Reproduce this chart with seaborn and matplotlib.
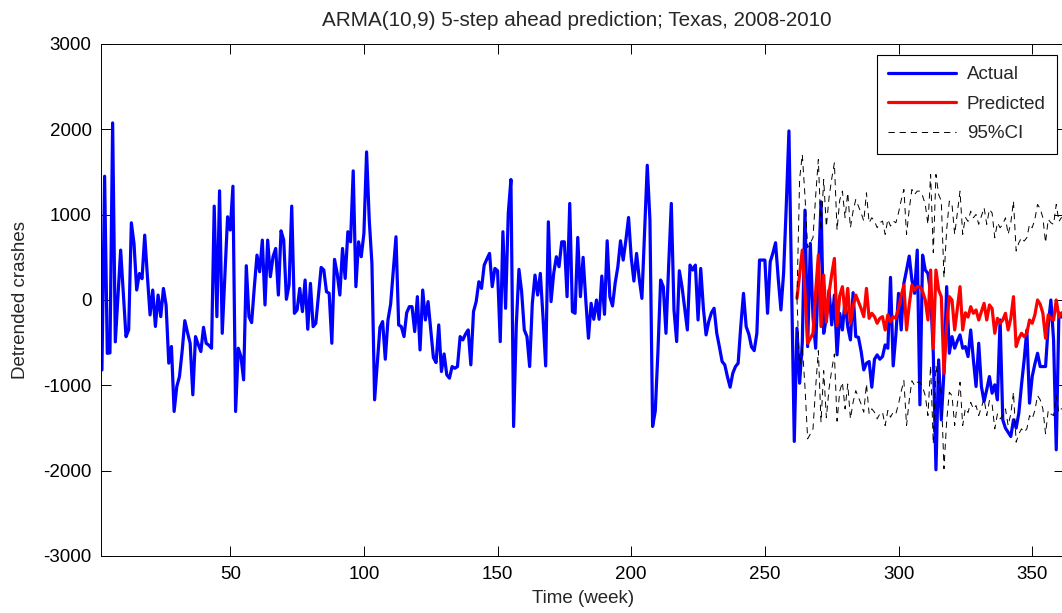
import numpy as np
import matplotlib
matplotlib.use("Agg")
import matplotlib.pyplot as plt
import seaborn as sns

# weekly detrended crash counts (weeks 2..361)
actual = [
    -820, 1450, -625, -620, 2075, -490, 50, 585, 80, -430,            # 2-11
    -350, 905, 660, 117, 310, 250, 760, 280, -175, 117,               # 12-21
    -310, 58, -195, 135, -60, -740, -545, -1306, -1014, -897,         # 22-31
    -600, -242, -380, -507, -1111, -429, -520, -604, -320, -507,      # 32-41
    -530, -565, 1100, -195, 1279, -390, 300, 975, 820, 1333,          # 42-51
    -1306, -565, -663, -936, 402, -195, -265, 150, 526, 331,          # 52-61
    702, -58, 702, 273, 507, 604, 58, 811, 702, 8,                    # 62-71
    175, 1100, -156, -117, 136, -136, 234, -343, 195, -312,           # 72-81
    -273, 50, 382, 351, 97, 78, -507, 476, 312, 58,                   # 82-91
    604, 253, 800, 682, 1513, 156, 682, 507, 780, 1735,               # 92-101
    936, 429, -1170, -741, -320, -253, -694, -234, -47, 350,          # 102-111
    741, -292, -312, -429, -150, -78, -78, -370, 39, -585,            # 112-121
    117, -234, -19, -351, -675, -733, -292, -838, -632, -877,         # 122-131
    -916, -780, -800, -780, -429, -468, -400, -351, -760, -136,       # 132-141
    -19, 214, 136, 409, 480, 546, 156, 370, 343, -487,                # 142-151
    800, -97, 1014, 1412, -1482, -300, 359, 97, -351, -429,           # 152-161
    -780, -39, 292, 58, 312, -200, -772, 916, -19, 312,               # 162-171
    507, 390, 682, 682, 39, 1131, -136, -156, 733, 39,                # 172-181
    500, 0, -448, -39, -226, 0, -226, 281, -168, 694,                 # 182-191
    39, -70, 200, 390, 694, 468, 700, 967, 500, 222,                  # 192-201
    546, 250, 19, 800, 1579, 936, -1482, -1300, -600, 234,            # 202-211
    156, -390, 400, 1131, -117, -487, 343, 156, -100, -351,           # 212-221
    409, 351, 409, -234, 370, -100, -409, -253, -150, -97,            # 222-231
    -390, -550, -721, -760, -900, -1022, -858, -780, -741, -300,      # 232-241
    78, -312, -400, -550, -593, -390, 468, 468, 468, -156,            # 242-251
    448, 550, 671, 250, -117, 312, 1100, 1981, 150, -1657,            # 252-261
    -331, -975, -500, 1053, -546, 663, -200, -565, 300, 1150,         # 262-271
    -390, -214, 117, -292, 58, -643, -156, -351, 0, -312,             # 272-281
    -468, 86, -429, -437, -600, -819, -741, -721, -1022, -694,        # 282-291
    -643, -694, -663, -526, -565, 265, -772, -409, 78, -351,          # 292-301
    195, 350, 515, 234, 78, 585, -1228, 526, 351, 312,                # 302-311
    78, -624, -1989, -702, -1404, -838, 156, -624, -429, -565,        # 312-321
    -480, -409, -565, -546, -663, -351, -700, -1014, -507, -1014,     # 322-331
    -1189, -1050, -897, -1092, -994, -1170, -234, -1404, -1501, -1550,  # 332-341
    -1599, -1404, -1501, -1326, -994, -700, -351, -1209, -897, -750,  # 342-351
    -624, -780, -780, -780, -300, 0, -468, -1755, -150, -200,         # 352-361
]

# ARMA(10,9) 5-step ahead prediction, weeks 262..361
predicted = [
    20, 300, 585, 100, -507, -450, -390, 100, 526, -312,
    292, -260, 80, 300, 487, -300, 50, 156, -156, 136,
    -273, -78, 58, -20, -100, -195, 136, -215, -156, -195,
    -273, -215, -195, -351, -175, -253, -195, -215, -97, 50,
    175, -351, -58, 175, 117, 156, 156, 100, 0, -234,
    351, -565, 351, 117, 39, -858, -300, 39, 0, -351,
    -100, 156, -351, -150, -200, -78, -156, -117, -234, -136,
    -39, -234, -58, -100, -390, -215, -273, -234, -156, -351,
    -215, 39, -546, -450, -390, -429, -390, -234, -273, -175,
    0, -50, -156, -448, -175, -215, -234, 0, -200, -150,
]

ci_upper = [
    20, 1420, 1705, 1220, 613, 670, 730, 1220, 1646, 808,
    1412, 860, 1200, 1420, 1607, 820, 1170, 1276, 964, 1256,
    847, 1042, 1178, 1100, 1020, 925, 1256, 905, 964, 925,
    847, 905, 925, 769, 945, 867, 925, 905, 1023, 1170,
    1295, 769, 1062, 1295, 1237, 1276, 1276, 1220, 1120, 886,
    1471, 555, 1471, 1237, 1159, 262, 820, 1159, 1120, 769,
    1020, 1276, 769, 970, 920, 1042, 964, 1003, 886, 984,
    1081, 886, 1062, 1020, 730, 905, 847, 886, 964, 769,
    905, 1159, 574, 670, 730, 691, 730, 886, 847, 945,
    1120, 1070, 964, 672, 945, 905, 886, 1120, 920, 970,
]

ci_lower = [
    20, -820, -535, -1020, -1627, -1570, -1510, -1020, -594, -1432,
    -828, -1380, -1040, -820, -633, -1420, -1070, -964, -1276, -984,
    -1393, -1198, -1062, -1140, -1220, -1315, -984, -1335, -1276, -1315,
    -1393, -1335, -1315, -1471, -1295, -1373, -1315, -1335, -1217, -1070,
    -945, -1471, -1178, -945, -1003, -964, -964, -1020, -1120, -1354,
    -769, -1685, -769, -1003, -1081, -1978, -1420, -1081, -1120, -1471,
    -1220, -964, -1471, -1270, -1320, -1198, -1276, -1237, -1354, -1256,
    -1159, -1354, -1178, -1220, -1510, -1335, -1393, -1354, -1276, -1471,
    -1335, -1081, -1666, -1570, -1510, -1549, -1510, -1354, -1393, -1295,
    -1120, -1170, -1276, -1568, -1295, -1335, -1354, -1120, -1320, -1270,
]

first_week = 2
forecast_start = 262
weeks = np.arange(first_week, first_week + len(actual))
fc_weeks = np.arange(forecast_start, forecast_start + len(predicted))

sns.set_theme(style="white")
plt.rcParams["font.family"] = ["Liberation Sans", "DejaVu Sans"]
plt.rcParams["axes.unicode_minus"] = False
plt.rcParams["lines.scale_dashes"] = False
fs = 13.5

fig = plt.figure(figsize=(10.62, 6.13), dpi=100)
ax = fig.add_axes([101.3 / 1062, 57 / 613, 962.7 / 1062, 512 / 613])

sns.lineplot(x=weeks, y=actual, ax=ax, color="blue", lw=2.3, estimator=None, label="Actual")
sns.lineplot(x=fc_weeks, y=predicted, ax=ax, color="red", lw=2.3, estimator=None, label="Predicted")
sns.lineplot(x=fc_weeks, y=ci_upper, ax=ax, color="black", lw=0.7, estimator=None,
             linestyle=(0, (4.5, 3.5)), label="95%CI")
sns.lineplot(x=fc_weeks, y=ci_lower, ax=ax, color="black", lw=0.7, estimator=None,
             linestyle=(0, (4.5, 3.5)), label="_nolegend_")

ax.set_xlim(1.76, 361.9)
ax.set_ylim(-3000, 3000)
ax.set_xticks(np.arange(50, 351, 50))
ax.set_yticks(np.arange(-3000, 3001, 1000))
ax.tick_params(direction="in", length=7, width=0.7, colors="black", labelsize=fs,
               top=True, right=True, bottom=True, left=True, pad=7)
for sp in ax.spines.values():
    sp.set_color("black")
    sp.set_linewidth(0.7)

ax.set_title("ARMA(10,9) 5-step ahead prediction; Texas, 2008-2010", fontsize=fs * 1.1,
             pad=13, x=0.494)
ax.set_xlabel("Time (week)", fontsize=fs, labelpad=5)
ax.set_ylabel("Detrended crashes", fontsize=fs, labelpad=10)

handles, labels = ax.get_legend_handles_labels()
leg = ax.legend(handles, labels, loc="upper right", bbox_to_anchor=(1057 / 1062, 1 - 55 / 613),
                bbox_transform=fig.transFigure, fontsize=fs, frameon=True, fancybox=False,
                framealpha=1, edgecolor="black", handlelength=3.6, handletextpad=0.6,
                borderpad=0.6, labelspacing=0.66, borderaxespad=0)
leg.get_frame().set_linewidth(0.8)

fig.savefig("out.png", dpi=100)
